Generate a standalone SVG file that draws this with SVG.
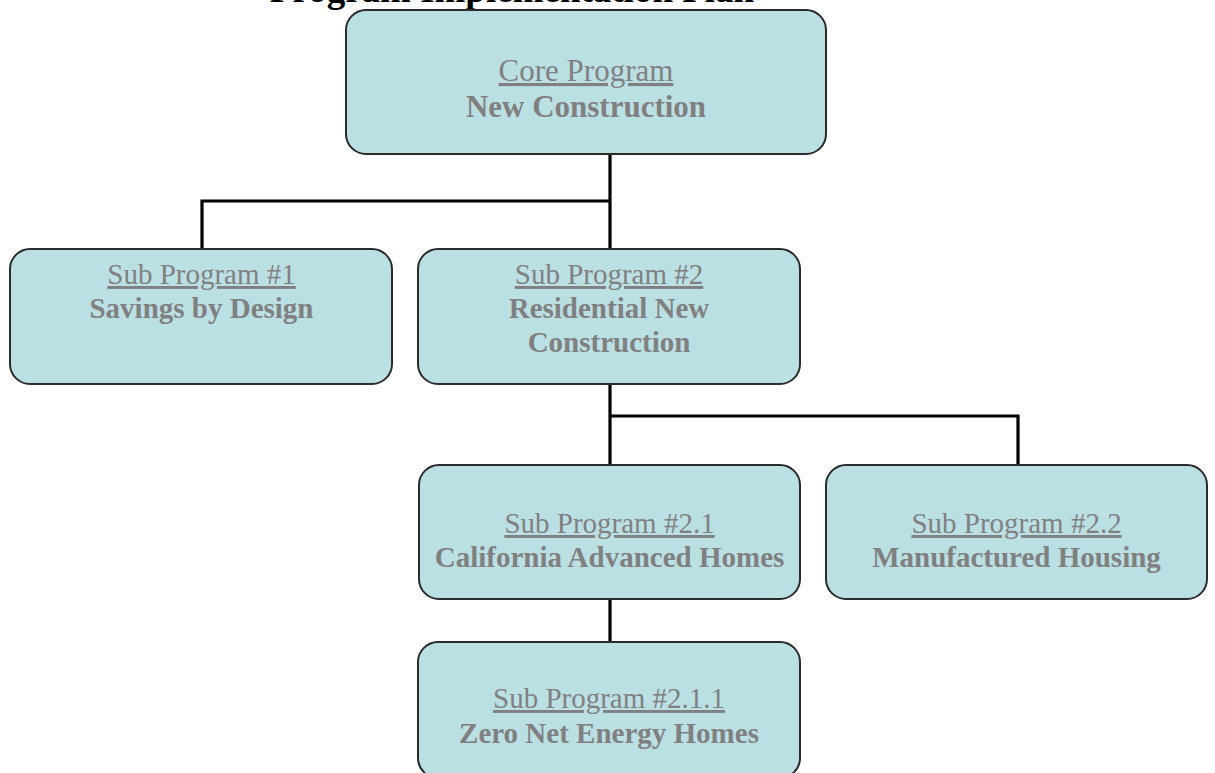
<svg xmlns="http://www.w3.org/2000/svg" width="1215" height="773" viewBox="0 0 1215 773">
<style>
.box{fill:#bbe0e3;stroke:#2b2b2b;stroke-width:2}
.lbl{font-family:"Liberation Serif","Times New Roman",serif;font-size:29px;fill:#808080;text-anchor:middle;text-decoration:underline}
.ttl{font-family:"Liberation Serif","Times New Roman",serif;font-size:29px;fill:#808080;text-anchor:middle;font-weight:bold}
.con{stroke:#000;stroke-width:3.2;fill:none}
</style>
<rect width="1215" height="773" fill="#fff"/>
<text x="512" y="2" font-family="Liberation Serif, Times New Roman, serif" font-size="37" font-weight="bold" text-anchor="middle" fill="#000">Program Implementation Plan</text>
<g id="connectors">
<polyline class="con" points="610,154 610,249"/>
<polyline class="con" points="610,201 202,201 202,249"/>
<polyline class="con" points="610,384 610,465"/>
<polyline class="con" points="610,416 1018,416 1018,465"/>
<polyline class="con" points="610,599 610,642"/>
</g>
<g id="core">
<rect class="box" x="346" y="10" width="480" height="144" rx="20"/>
<text class="lbl" x="586" y="81" style="font-size:31px">Core Program</text>
<text class="ttl" x="586" y="117" style="font-size:31px">New Construction</text>
</g>
<g id="sub1">
<rect class="box" x="10" y="249" width="382" height="135" rx="20"/>
<text class="lbl" x="201.5" y="284">Sub Program #1</text>
<text class="ttl" x="201.5" y="318">Savings by Design</text>
</g>
<g id="sub2">
<rect class="box" x="418" y="249" width="382" height="135" rx="20"/>
<text class="lbl" x="609" y="284">Sub Program #2</text>
<text class="ttl" x="609" y="318">Residential New</text>
<text class="ttl" x="609" y="352">Construction</text>
</g>
<g id="sub21">
<rect class="box" x="419" y="465" width="381" height="134" rx="20"/>
<text class="lbl" x="609.5" y="533">Sub Program #2.1</text>
<text class="ttl" x="609.5" y="567">California Advanced Homes</text>
</g>
<g id="sub22">
<rect class="box" x="826" y="465" width="381" height="134" rx="20"/>
<text class="lbl" x="1016.5" y="533">Sub Program #2.2</text>
<text class="ttl" x="1016.5" y="567">Manufactured Housing</text>
</g>
<g id="sub211">
<rect class="box" x="418" y="642" width="382" height="136" rx="20"/>
<text class="lbl" x="609" y="708">Sub Program #2.1.1</text>
<text class="ttl" x="609" y="743">Zero Net Energy Homes</text>
</g>
</svg>
